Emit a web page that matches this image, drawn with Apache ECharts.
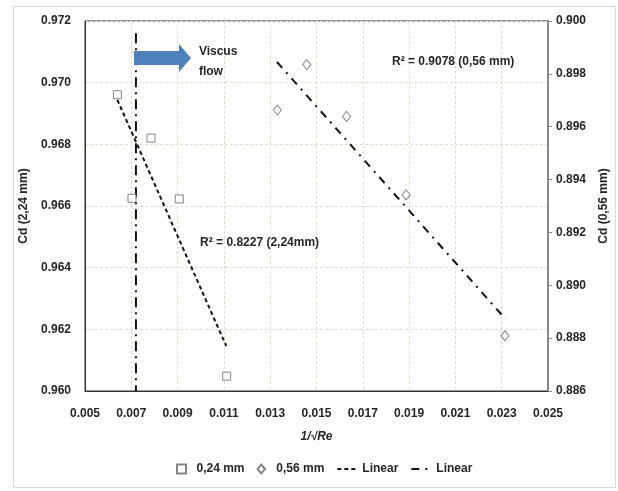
<!DOCTYPE html>
<html>
<head>
<meta charset="utf-8">
<script src="https://cdn.jsdelivr.net/npm/echarts@6/dist/echarts.min.js"></script>
<style>
  html, body { margin: 0; padding: 0; background: #fff; }
  #chart { width: 618px; height: 491px; }
</style>
</head>
<body>
<div id="chart"></div>
<script>
// points
const x024 = [0.00640, 0.00703, 0.00785, 0.00907, 0.01112]
const cd024 = [0.96961, 0.96625, 0.96820, 0.96623, 0.96048]
const x056 = [0.01331, 0.01458, 0.01630, 0.01887, 0.02314]
const cd056 = [0.89663, 0.89835, 0.89639, 0.89342, 0.88809]

// trend line ends as drawn
const trend024X = [0.00640, 0.01110]
const trend024Y = [0.96944, 0.96146]
const trend056X = [0.01329, 0.02317]
const trend056Y = [0.89845, 0.88872]

// viscous-flow boundary
const boundaryX = [0.0072, 0.0072]
const boundaryY = [0.9716, 0.960]

const xTicks = { min: 0.005, max: 0.025, step: 0.002 }
const leftTicks = { min: 0.960, max: 0.972, step: 0.002 }
const rightTicks = { min: 0.886, max: 0.900, step: 0.002 }

const font = "'Liberation Sans', Arial, sans-serif"
const txt = '#262626'
const fs = 12

const pairs = (xs, ys) => xs.map((x, i) => [x, ys[i]])

const chart = echarts.init(document.getElementById('chart'))
chart.setOption({
  animation: false,
  textStyle: { fontFamily: font },
  grid: { left: 85, right: 70, top: 21, bottom: 100, show: true, borderColor: '#333', borderWidth: 1 },
  graphic: [{
    type: 'rect',
    shape: { x: 13.5, y: 6.5, width: 602, height: 481 },
    style: { fill: 'none', stroke: '#d9d9d9', lineWidth: 1 },
    silent: true
  }],
  legend: {
    bottom: 11,
    left: 171,
    itemGap: 12,
    itemWidth: 20,
    itemHeight: 9,
    data: [
      { name: '0,24 mm', icon: 'path://M0,0 L10,0 L10,10 L0,10 Z' },
      { name: '0,56 mm', icon: 'path://M5,0 L10,6 L5,12 L0,6 Z' },
      { name: 'Linear', itemStyle: { opacity: 0 } },
      { name: 'Linear ', itemStyle: { opacity: 0 } }
    ],
    textStyle: { fontFamily: font, fontWeight: 'bold', fontSize: fs, color: txt }
  },
  xAxis: {
    type: 'value',
    min: xTicks.min, max: xTicks.max, interval: xTicks.step,
    name: '1/√Re',
    nameLocation: 'middle',
    nameGap: 40,
    nameTextStyle: { fontFamily: font, fontWeight: 'bold', fontStyle: 'italic', fontSize: fs, color: txt },
    axisLine: { lineStyle: { color: '#333', width: 1 } },
    axisTick: { show: false },
    axisLabel: { formatter: v => v.toFixed(3), margin: 17, fontWeight: 'bold', fontSize: fs, color: txt },
    splitLine: { lineStyle: { color: '#e3e0c8', type: [3, 2] } }
  },
  yAxis: [{
    type: 'value',
    min: leftTicks.min, max: leftTicks.max, interval: leftTicks.step,
    name: 'Cd (2,24 mm)',
    nameLocation: 'middle',
    nameGap: 41,
    nameTextStyle: { fontFamily: font, fontWeight: 'bold', fontSize: fs, color: txt },
    axisLine: { show: true, lineStyle: { color: '#333', width: 1 } },
    axisTick: { show: false },
    axisLabel: { formatter: v => v.toFixed(3), margin: 14, fontWeight: 'bold', fontSize: fs, color: txt },
    splitLine: { lineStyle: { color: '#e3e0c8', type: [3, 2] } }
  }, {
    type: 'value',
    position: 'right',
    min: rightTicks.min, max: rightTicks.max, interval: rightTicks.step,
    name: 'Cd (0,56 mm)',
    nameLocation: 'middle',
    nameGap: 50,
    nameRotate: 90,
    nameTextStyle: { fontFamily: font, fontWeight: 'bold', fontSize: fs, color: txt },
    axisLine: { show: true, lineStyle: { color: '#888', width: 2 } },
    axisTick: { show: true, length: 4, lineStyle: { color: '#888', width: 1 } },
    axisLabel: { formatter: v => v.toFixed(3), margin: 8, fontWeight: 'bold', fontSize: fs, color: txt },
    splitLine: { show: false }
  }],
  series: [
    {
      name: '0,24 mm',
      type: 'scatter',
      yAxisIndex: 0,
      symbol: 'rect',
      symbolSize: 8,
      itemStyle: { color: '#fff', borderColor: '#666', borderWidth: 1 },
      data: pairs(x024, cd024),
      z: 5
    },
    {
      name: '0,56 mm',
      type: 'scatter',
      yAxisIndex: 1,
      symbol: 'diamond',
      symbolSize: [8, 10],
      itemStyle: { color: '#fff', borderColor: '#666', borderWidth: 1 },
      data: pairs(x056, cd056),
      z: 5
    },
    {
      name: 'Linear',
      type: 'line',
      yAxisIndex: 0,
      showSymbol: false,
      symbol: 'none',
      itemStyle: { color: '#111' },
      lineStyle: { color: '#111', width: 2, type: [4, 3] },
      data: pairs(trend024X, trend024Y)
    },
    {
      name: 'Linear ',
      type: 'line',
      yAxisIndex: 1,
      showSymbol: false,
      symbol: 'none',
      itemStyle: { color: '#111' },
      lineStyle: { color: '#111', width: 2, type: [8, 6, 2, 6] },
      data: pairs(trend056X, trend056Y),
      markPoint: {
        symbol: 'circle',
        symbolSize: 0,
        label: {
          show: true, position: [0, 0], align: 'left', verticalAlign: 'middle',
          fontFamily: font, fontWeight: 'bold', fontSize: fs, color: txt
        },
        data: [{ coord: [0.01826, 0.89845], value: 'R² = 0.9078 (0,56 mm)' }]
      }
    },
    {
      name: 'boundary',
      type: 'line',
      yAxisIndex: 0,
      showSymbol: false,
      symbol: 'none',
      lineStyle: { color: '#111', width: 2, type: [10, 5, 2, 5] },
      data: pairs(boundaryX, boundaryY),
      markPoint: {
        symbolSize: 0,
        label: {
          show: true, position: [0, 0], align: 'left', verticalAlign: 'middle',
          fontFamily: font, fontWeight: 'bold', fontSize: fs, color: txt, lineHeight: 20
        },
        data: [
          {
            coord: [0.008348, 0.97080],
            symbol: 'path://M0,7 L45,7 L45,0 L57,14 L45,28 L45,21 L0,21 Z',
            symbolSize: [57, 28],
            symbolKeepAspect: false,
            itemStyle: { color: '#4f81bd' },
            label: { show: false }
          },
          { coord: [0.00992, 0.97067], symbol: 'circle', value: 'Viscus\nflow' },
          { coord: [0.00997, 0.96480], symbol: 'circle', value: 'R² = 0.8227 (2,24mm)' }
        ]
      },
      z: 3
    }
  ]
})
</script>
</body>
</html>
